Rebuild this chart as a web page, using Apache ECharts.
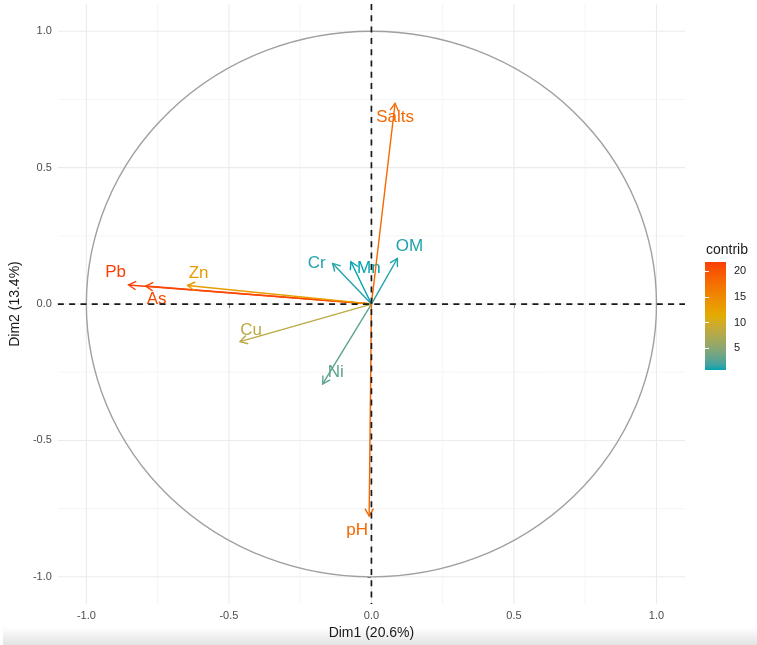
<!DOCTYPE html>
<html>
<head>
<meta charset="utf-8">
<script src="https://cdn.jsdelivr.net/npm/echarts@6/dist/echarts.min.js"></script>
<style>
  html, body { margin: 0; padding: 0; background: #ffffff; }
  #chart { width: 757px; height: 645px; }
</style>
</head>
<body>
<div id="chart"></div>
<script>
// variable coordinates on Dim1 / Dim2 and their contribution (%)
var variables = ['Pb', 'As', 'Zn', 'Cu', 'Cr', 'Mn', 'OM', 'Ni', 'pH', 'Salts']
var dim1 = [-0.852, -0.792, -0.645, -0.461, -0.136, -0.072, 0.091, -0.171, -0.008, 0.083]
var dim2 = [0.070, 0.066, 0.068, -0.138, 0.149, 0.155, 0.167, -0.293, -0.777, 0.736]
var contrib = [21.8, 21.0, 13.0, 8.2, 1.2, 0.8, 1.1, 2.9, 18.3, 18.2]
var axisTicks = [-1, -0.5, 0, 0.5, 1]
var minorTicks = [-0.75, -0.25, 0.25, 0.75]
var legendTicks = [5, 10, 15, 20]

var gradientCols = ['#00AFBB', '#E7B800', '#FC4E07']
var FONT = 'Liberation Sans, Arial, Helvetica, sans-serif'

// label offsets in px from the arrow tip (repelled labels)
var labelOffset = {
  Pb: [-13, -13], As: [11, 13], Zn: [11, -12], Cu: [11, -11], Cr: [-16, 0],
  Mn: [18, 7], OM: [12, -12], Ni: [13, -12], pH: [-12, 14], Salts: [0, 14]
}

var cMin = Math.min.apply(null, contrib)
var cMax = Math.max.apply(null, contrib)

// colour ramp interpolated in CIELAB (like ggplot gradientn), slightly darkened
function hexToRgb (h) {
  h = h.replace('#', '')
  return [parseInt(h.substr(0, 2), 16), parseInt(h.substr(2, 2), 16), parseInt(h.substr(4, 2), 16)]
}
function toLab (hex) {
  var c = hexToRgb(hex).map(function (v) {
    v = v / 255
    return v <= 0.04045 ? v / 12.92 : Math.pow((v + 0.055) / 1.055, 2.4)
  })
  var X = (0.4124564 * c[0] + 0.3575761 * c[1] + 0.1804375 * c[2]) / 0.95047
  var Y = (0.2126729 * c[0] + 0.7151522 * c[1] + 0.0721750 * c[2])
  var Z = (0.0193339 * c[0] + 0.1191920 * c[1] + 0.9503041 * c[2]) / 1.08883
  var f = function (t) { return t > 0.008856 ? Math.cbrt(t) : 7.787 * t + 16 / 116 }
  var fx = f(X), fy = f(Y), fz = f(Z)
  return [116 * fy - 16, 500 * (fx - fy), 200 * (fy - fz)]
}
function fromLab (lab) {
  var fy = (lab[0] + 16) / 116
  var fx = fy + lab[1] / 500
  var fz = fy - lab[2] / 200
  var inv = function (t) { return t * t * t > 0.008856 ? t * t * t : (t - 16 / 116) / 7.787 }
  var X = inv(fx) * 0.95047, Y = inv(fy), Z = inv(fz) * 1.08883
  var r = 3.2404542 * X - 1.5371385 * Y - 0.4985314 * Z
  var g = -0.9692660 * X + 1.8760108 * Y + 0.0415560 * Z
  var b = 0.0556434 * X - 0.2040259 * Y + 1.0572252 * Z
  var out = [r, g, b].map(function (v) {
    v = Math.max(0, Math.min(1, v))
    v = v <= 0.0031308 ? 12.92 * v : 1.055 * Math.pow(v, 1 / 2.4) - 0.055
    v = Math.pow(Math.max(0, Math.min(1, v)), 1.2)
    return Math.round(v * 255)
  })
  return 'rgb(' + out.join(',') + ')'
}
var labStops = gradientCols.map(toLab)
function rampColor (v) {
  var t = (v - cMin) / (cMax - cMin)
  t = Math.max(0, Math.min(1, t))
  var seg = t * (labStops.length - 1)
  var k = Math.min(Math.floor(seg), labStops.length - 2)
  var u = seg - k
  var a = labStops[k], b = labStops[k + 1]
  return fromLab([a[0] + (b[0] - a[0]) * u, a[1] + (b[1] - a[1]) * u, a[2] + (b[2] - a[2]) * u])
}

var barStops = []
for (var s = 0; s <= 30; s++) {
  barStops.push({ offset: s / 30, color: rampColor(cMin + (cMax - cMin) * s / 30) })
}

var gridData = []
axisTicks.forEach(function (v) { gridData.push([v, 0, 1]); gridData.push([v, 1, 1]) })
minorTicks.forEach(function (v) { gridData.push([v, 0, 0]); gridData.push([v, 1, 0]) })

var arrowData = dim1.map(function (x, i) { return [x, dim2[i], contrib[i]] })

var chart = echarts.init(document.getElementById('chart'))
chart.setOption({
  animation: false,
  backgroundColor: '#ffffff',
  textStyle: { fontFamily: FONT },
  grid: [
    { left: 53, right: 72, top: 4, bottom: 35 },
    { left: 705, top: 262, width: 21, height: 108 }
  ],
  xAxis: [
    {
      gridIndex: 0,
      type: 'value',
      min: -1.1,
      max: 1.1,
      name: 'Dim1 (20.6%)',
      nameLocation: 'middle',
      nameGap: 21,
      nameTextStyle: { fontSize: 14, color: '#1a1a1a', fontFamily: FONT },
      axisLine: { show: false },
      axisTick: { show: true, customValues: axisTicks, length: 4, lineStyle: { color: '#333333', width: 1 } },
      axisLabel: {
        customValues: axisTicks,
        margin: 6,
        fontSize: 11,
        color: '#4d4d4d',
        fontFamily: FONT,
        formatter: function (v) { return v.toFixed(1) }
      },
      splitLine: { show: false }
    },
    { gridIndex: 1, type: 'value', min: 0, max: 1, show: false }
  ],
  yAxis: [
    {
      gridIndex: 0,
      type: 'value',
      min: -1.1,
      max: 1.1,
      name: 'Dim2 (13.4%)',
      nameLocation: 'middle',
      nameGap: 27,
      nameTextStyle: { fontSize: 14, color: '#1a1a1a', fontFamily: FONT },
      axisLine: { show: false },
      axisTick: { show: true, customValues: axisTicks, length: 4, lineStyle: { color: '#333333', width: 1 } },
      axisLabel: {
        customValues: axisTicks,
        margin: 6,
        fontSize: 11,
        color: '#4d4d4d',
        fontFamily: FONT,
        formatter: function (v) { return v.toFixed(1) }
      },
      splitLine: { show: false }
    },
    {
      gridIndex: 1,
      type: 'value',
      min: cMin,
      max: cMax,
      position: 'right',
      z: 10,
      axisLine: { show: false },
      axisTick: { show: true, inside: true, customValues: legendTicks, length: 4, lineStyle: { color: '#ffffff', width: 1 } },
      axisLabel: { customValues: legendTicks, margin: 8, fontSize: 11, color: '#1a1a1a', fontFamily: FONT },
      splitLine: { show: false }
    },
    {
      gridIndex: 1,
      type: 'value',
      min: cMin,
      max: cMax,
      position: 'left',
      z: 10,
      axisLine: { show: false },
      axisTick: { show: true, inside: true, customValues: legendTicks, length: 4, lineStyle: { color: '#ffffff', width: 1 } },
      axisLabel: { show: false },
      splitLine: { show: false }
    }
  ],
  graphic: [
    {
      type: 'rect',
      z: -10,
      shape: { x: 3, y: 627, width: 754, height: 18 },
      style: {
        fill: {
          type: 'linear', x: 0, y: 0, x2: 0, y2: 1,
          colorStops: [{ offset: 0, color: '#ffffff' }, { offset: 1, color: '#e3e3e3' }]
        }
      }
    },
    {
      type: 'text',
      x: 706,
      y: 250,
      style: { text: 'contrib', font: '14px ' + FONT, fill: '#1a1a1a', verticalAlign: 'middle' }
    }
  ],
  series: [
    {
      // grid lines
      type: 'custom',
      xAxisIndex: 0,
      yAxisIndex: 0,
      z: 1,
      silent: true,
      data: gridData,
      renderItem: function (params, api) {
        var cs = params.coordSys
        var v = api.value(0)
        var major = api.value(2) === 1
        var style = { stroke: major ? '#ebebeb' : '#f3f3f3', lineWidth: major ? 1.1 : 0.8 }
        if (api.value(1) === 0) {
          var px = api.coord([v, 0])[0]
          return { type: 'line', shape: { x1: px, y1: cs.y, x2: px, y2: cs.y + cs.height }, style: style }
        }
        var py = api.coord([0, v])[1]
        return { type: 'line', shape: { x1: cs.x, y1: py, x2: cs.x + cs.width, y2: py }, style: style }
      }
    },
    {
      // correlation circle
      type: 'custom',
      xAxisIndex: 0,
      yAxisIndex: 0,
      z: 2,
      silent: true,
      data: [[0, 0]],
      renderItem: function (params, api) {
        var c = api.coord([0, 0])
        var rx = api.size([1, 0])[0]
        var ry = api.size([0, 1])[1]
        return {
          type: 'circle',
          x: c[0],
          y: c[1],
          scaleY: ry / rx,
          shape: { cx: 0, cy: 0, r: rx },
          style: { fill: null, stroke: '#a0a0a0', lineWidth: 1.4, strokeNoScale: true }
        }
      }
    },
    {
      // variable arrows and labels
      type: 'custom',
      xAxisIndex: 0,
      yAxisIndex: 0,
      z: 3,
      silent: true,
      data: arrowData,
      renderItem: function (params, api) {
        var i = params.dataIndex
        var o = api.coord([0, 0])
        var t = api.coord([api.value(0), api.value(1)])
        var col = rampColor(api.value(2))
        var ang = Math.atan2(t[1] - o[1], t[0] - o[0])
        var L = 8.5
        var a = Math.PI / 6
        var h1 = [t[0] - L * Math.cos(ang - a), t[1] - L * Math.sin(ang - a)]
        var h2 = [t[0] - L * Math.cos(ang + a), t[1] - L * Math.sin(ang + a)]
        var off = labelOffset[variables[i]]
        return {
          type: 'group',
          children: [
            { type: 'line', shape: { x1: o[0], y1: o[1], x2: t[0], y2: t[1] }, style: { stroke: col, lineWidth: 1.4 } },
            { type: 'polyline', shape: { points: [h1, t, h2] }, style: { stroke: col, lineWidth: 1.4, fill: null } },
            {
              type: 'text',
              x: t[0] + off[0],
              y: t[1] + off[1],
              style: { text: variables[i], fill: col, font: '17px ' + FONT, align: 'center', verticalAlign: 'middle' }
            }
          ]
        }
      }
    },
    {
      // dashed zero lines
      type: 'custom',
      xAxisIndex: 0,
      yAxisIndex: 0,
      z: 5,
      silent: true,
      data: [[0, 0]],
      renderItem: function (params, api) {
        var cs = params.coordSys
        var c = api.coord([0, 0])
        var st = { stroke: '#1a1a1a', lineWidth: 1.7, lineDash: [6, 5.3] }
        return {
          type: 'group',
          children: [
            { type: 'line', shape: { x1: cs.x, y1: c[1], x2: cs.x + cs.width, y2: c[1] }, style: st },
            { type: 'line', shape: { x1: c[0], y1: cs.y, x2: c[0], y2: cs.y + cs.height }, style: st }
          ]
        }
      }
    },
    {
      // colour bar
      type: 'custom',
      xAxisIndex: 1,
      yAxisIndex: 1,
      z: 2,
      silent: true,
      data: [[0, cMin]],
      renderItem: function (params, api) {
        var p1 = api.coord([0, cMax])
        var p2 = api.coord([1, cMin])
        return {
          type: 'rect',
          shape: { x: p1[0], y: p1[1], width: p2[0] - p1[0], height: p2[1] - p1[1] },
          style: {
            fill: new echarts.graphic.LinearGradient(0, 1, 0, 0, barStops)
          }
        }
      }
    }
  ]
})
</script>
</body>
</html>
